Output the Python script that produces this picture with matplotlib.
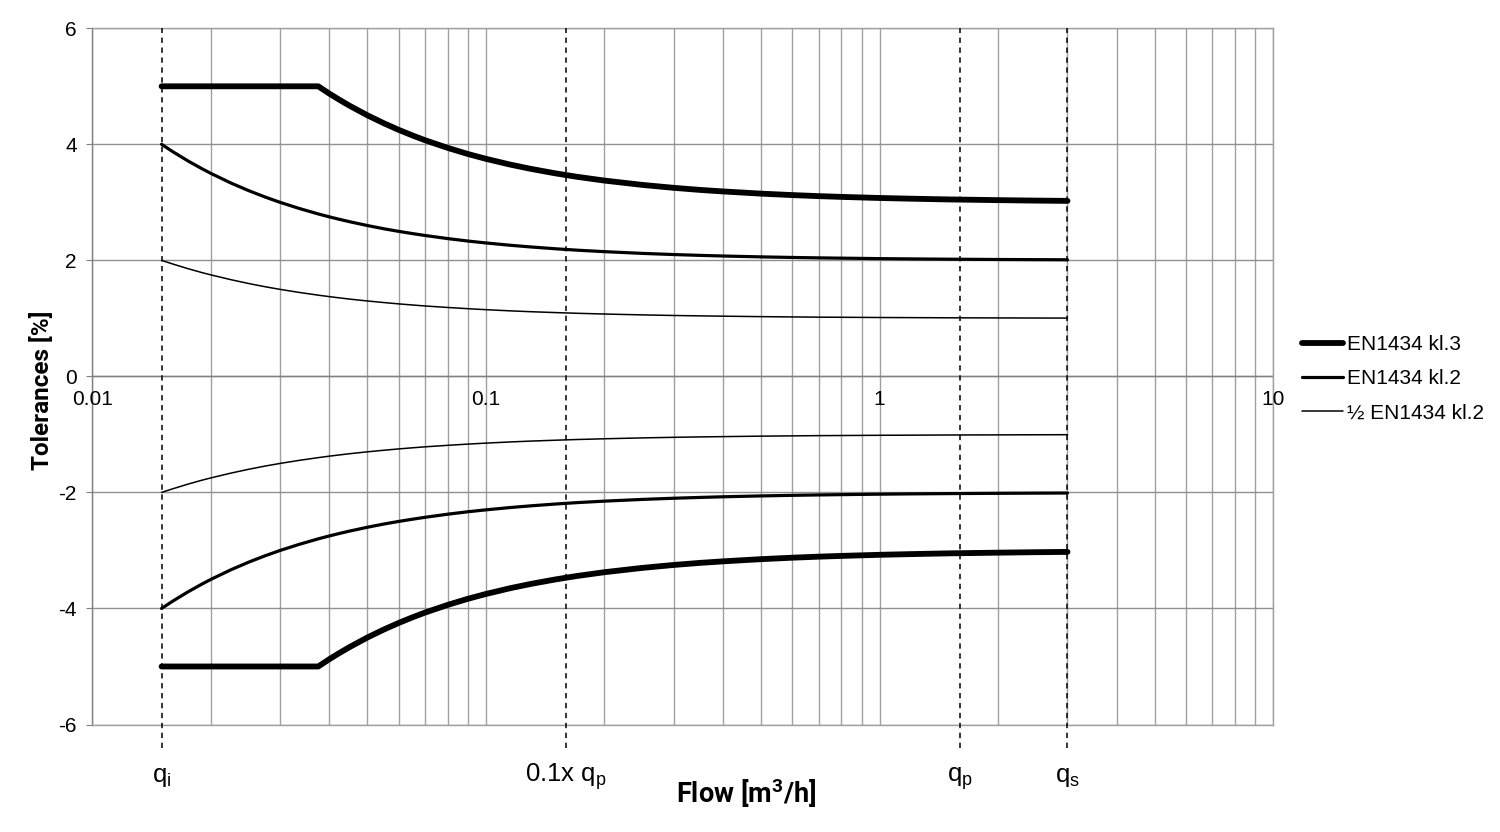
import matplotlib
matplotlib.use('Agg')
import matplotlib.pyplot as plt
import matplotlib.transforms as mtransforms

# ---- data ----
flow = [0.015, 0.016, 0.0175, 0.019, 0.02, 0.0225, 0.025, 0.0275, 0.03, 0.0335,
        0.0375, 0.04, 0.0425, 0.045, 0.05, 0.055, 0.06, 0.065, 0.07, 0.08,
        0.09, 0.1, 0.115, 0.13, 0.15, 0.17, 0.2, 0.25, 0.3, 0.35,
        0.4, 0.5, 0.6, 0.7, 0.8, 1.0, 1.2, 1.5, 2.0, 2.5, 3.0]
kl3 = [5.0, 5.0, 5.0, 5.0, 5.0, 5.0, 5.0, 5.0, 5.0, 5.0,
       5.0, 4.875, 4.765, 4.667, 4.5, 4.364, 4.25, 4.154, 4.071, 3.938,
       3.833, 3.75, 3.652, 3.577, 3.5, 3.441, 3.375, 3.3, 3.25, 3.214,
       3.188, 3.15, 3.125, 3.107, 3.094, 3.075, 3.063, 3.05, 3.038, 3.03, 3.025]
kl2 = [4.0, 3.875, 3.714, 3.579, 3.5, 3.333, 3.2, 3.091, 3.0, 2.896,
       2.8, 2.75, 2.706, 2.667, 2.6, 2.545, 2.5, 2.462, 2.429, 2.375,
       2.333, 2.3, 2.261, 2.231, 2.2, 2.176, 2.15, 2.12, 2.1, 2.086,
       2.075, 2.06, 2.05, 2.043, 2.038, 2.03, 2.025, 2.02, 2.015, 2.012, 2.01]
half_kl2 = [2.0, 1.938, 1.857, 1.789, 1.75, 1.667, 1.6, 1.545, 1.5, 1.448,
            1.4, 1.375, 1.353, 1.333, 1.3, 1.273, 1.25, 1.231, 1.214, 1.188,
            1.167, 1.15, 1.13, 1.115, 1.1, 1.088, 1.075, 1.06, 1.05, 1.043,
            1.038, 1.03, 1.025, 1.021, 1.019, 1.015, 1.013, 1.01, 1.008, 1.006, 1.005]

series_labels = ['EN1434 kl.3', 'EN1434 kl.2', '½ EN1434 kl.2']

marker_flows = [0.015, 0.16, 1.6, 3.0]
marker_labels = ['q$_\\mathregular{i}$', '0.1x q$_\\mathregular{p}$',
                 'q$_\\mathregular{p}$', 'q$_\\mathregular{s}$']

x_ticks = [0.01, 0.1, 1, 10]
x_tick_labels = ['0.01', '0.1', '1', '10']
y_ticks = [-6, -4, -2, 0, 2, 4, 6]

# ---- style ----
plt.rcParams['font.family'] = ['Liberation Sans', 'DejaVu Sans']
plt.rcParams['mathtext.default'] = 'regular'

fig = plt.figure(figsize=(15, 8.32), dpi=100)
ax = fig.add_axes([0.0615, 0.1292, 0.7874, 0.8368])

ax.set_xscale('log')
ax.set_xlim(0.01, 10)
ax.set_ylim(-6, 6)

grid_col = '#a0a0a0'
ax.set_xticks(x_ticks)
ax.set_xticks([m * 10.0 ** e for e in (-2, -1, 0) for m in range(2, 10)], minor=True)
ax.set_xticklabels([])
ax.tick_params(axis='x', which='both', length=0)
ax.grid(True, axis='x', which='both', color=grid_col, lw=1.0)
ax.set_yticks(y_ticks)
ax.set_yticklabels([str(v) for v in y_ticks], fontsize=15)
ax.tick_params(axis='y', length=4, color='#808080', pad=7)
ax.grid(True, axis='y', which='major', color='#909090', lw=1.0)
ax.set_axisbelow(True)

for s in ('top', 'right', 'bottom'):
    ax.spines[s].set_color(grid_col)
    ax.spines[s].set_linewidth(1.0)
ax.spines['left'].set_color('#808080')
ax.spines['left'].set_linewidth(1.0)
ax.axhline(0, color='#808080', lw=1.0, zorder=1)

# x tick labels sit under the zero line
for xv, lab in zip(x_ticks, x_tick_labels):
    ax.annotate(lab, (xv, 0), xytext=(0, -10), textcoords='offset points',
                ha='center', va='top', fontsize=15, annotation_clip=False)

# dashed reference flows
trans = mtransforms.blended_transform_factory(ax.transData, ax.transAxes)
for xv, lab in zip(marker_flows, marker_labels):
    ax.plot([xv, xv], [-0.034, 1.0], transform=trans, color='black', lw=1.1,
            linestyle=(0, (3.5, 3)), clip_on=False, zorder=3)
    ax.text(xv, -0.0826, lab, transform=trans, ha='center', va='baseline',
            fontsize=18.5)

# curves
widths = [4.2, 2.3, 1.1]
for vals, lw, lab in zip([kl3, kl2, half_kl2], widths, series_labels):
    ax.plot(flow, vals, color='black', lw=lw, solid_capstyle='round',
            solid_joinstyle='round', label=lab, zorder=4)
    ax.plot(flow, [-v for v in vals], color='black', lw=lw,
            solid_capstyle='round', solid_joinstyle='round', zorder=4)

leg = ax.legend(loc='center left', bbox_to_anchor=(1302 / 1500, 1 - 379 / 832),
                bbox_transform=fig.transFigure, frameon=False, fontsize=15,
                handlelength=1.95, handletextpad=0.2, labelspacing=0.72,
                borderpad=0, borderaxespad=0)

fig.text(746 / 1500, 1 - 803 / 832, 'Flow [m$^3$/h]', ha='center', va='baseline',
         fontsize=19.5, fontweight='bold', family=['Roboto', 'DejaVu Sans'])
fig.text(42 / 1500, 1 - 390 / 832, 'Tolerances [%]', ha='center', va='center',
         rotation=90, fontsize=17.5, fontweight='bold', family=['Roboto', 'DejaVu Sans'])

fig.savefig('out.png', dpi=100)
